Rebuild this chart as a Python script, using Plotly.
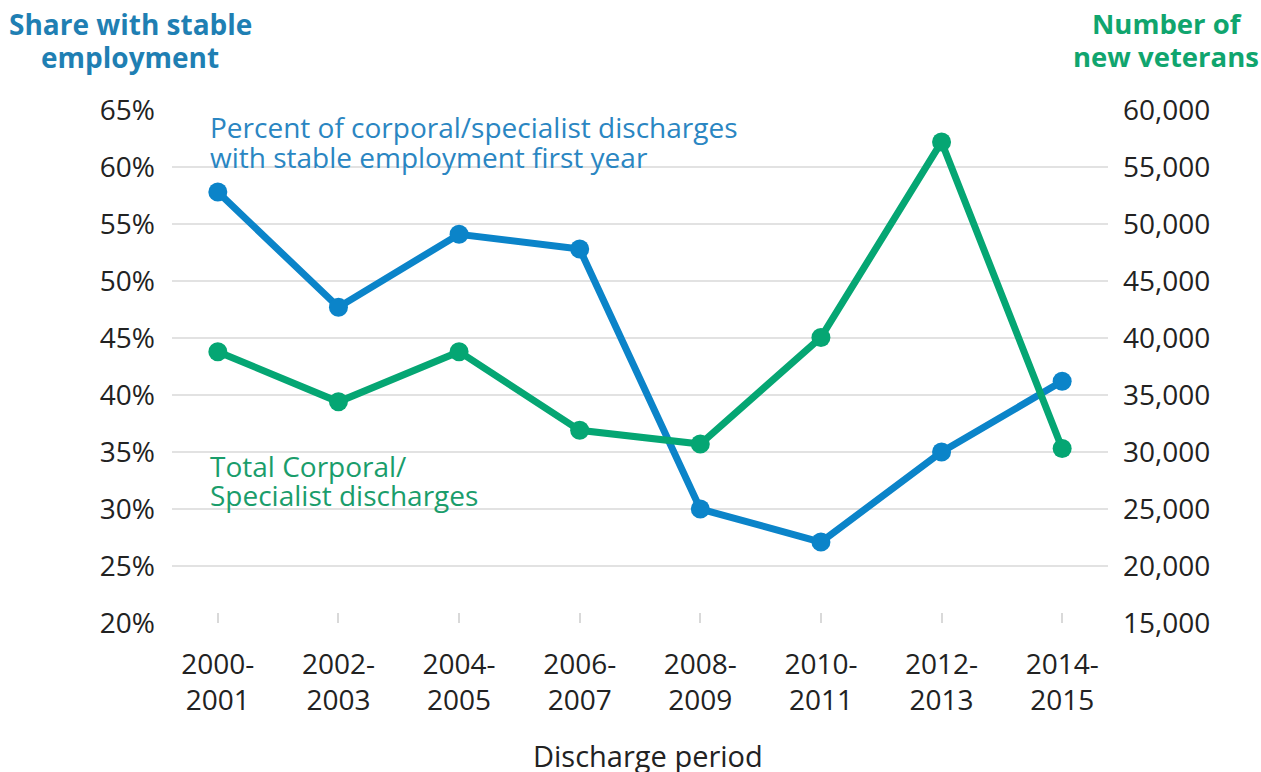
import plotly.graph_objects as go

periods = ["2000-<br>2001", "2002-<br>2003", "2004-<br>2005", "2006-<br>2007",
           "2008-<br>2009", "2010-<br>2011", "2012-<br>2013", "2014-<br>2015"]
stable_pct = [57.8, 47.7, 54.1, 52.8, 30.0, 27.1, 35.0, 41.2]
discharges = [38800, 34400, 38800, 31900, 30700, 40050, 57200, 30300]
left_ticks = [20, 25, 30, 35, 40, 45, 50, 55, 60, 65]
left_ticktext = [f"{v}%" for v in left_ticks]
right_ticks = [15000, 20000, 25000, 30000, 35000, 40000, 45000, 50000, 55000, 60000]
right_ticktext = [f"{v:,}" for v in right_ticks]

BLUE = "#0b84c9"
GREEN = "#05a673"
BLUE_T = "#1f7fb3"
GREEN_T = "#10a56e"
FONT = "Open Sans"

x = list(range(len(periods)))

fig = go.Figure()
fig.add_trace(go.Scatter(x=x, y=discharges, yaxis="y2", mode="lines+markers",
                         line=dict(color=GREEN, width=7),
                         marker=dict(color=GREEN, size=19), showlegend=False))
fig.add_trace(go.Scatter(x=x, y=stable_pct, mode="lines+markers",
                         line=dict(color=BLUE, width=7),
                         marker=dict(color=BLUE, size=19), showlegend=False))

tickfont = dict(family=FONT, size=28, color="#222222")

fig.update_layout(
    width=1261, height=772,
    margin=dict(l=172, r=153, t=110, b=149),
    plot_bgcolor="white", paper_bgcolor="white",
    xaxis=dict(range=[-0.38, 7.38], tickvals=x, ticktext=periods,
               showgrid=False, zeroline=False, showline=False,
               ticks="inside", ticklen=10, tickcolor="#d9d9d9", tickwidth=1.5,
               tickfont=tickfont, ticklabelstandoff=22),
    yaxis=dict(range=[20, 65], tickvals=left_ticks, ticktext=left_ticktext,
               showgrid=True, gridcolor="#e2e2e2", gridwidth=2,
               zeroline=False, showline=False, tickfont=tickfont,
               ticklabelstandoff=16),
    yaxis2=dict(range=[15000, 60000], tickvals=right_ticks, ticktext=right_ticktext,
                overlaying="y", side="right", showgrid=False, zeroline=False,
                showline=False, tickfont=tickfont, ticklabelstandoff=14),
)

def add_text(txt, px, py, size, color, anchor="left", bold=False):
    fig.add_annotation(text=f"<b>{txt}</b>" if bold else txt,
                       xref="paper", yref="paper",
                       x=(px - 172) / 936, y=(623 - py) / 513,
                       xanchor=anchor, yanchor="middle", showarrow=False,
                       font=dict(family=FONT, size=size, color=color))

# axis titles
add_text("Share with stable", 130, 24, 28, BLUE_T, "center", True)
add_text("employment", 130, 57, 28, BLUE_T, "center", True)
add_text("Number of", 1167, 24, 27.5, GREEN_T, "center", True)
add_text("new veterans", 1166, 57, 27.5, GREEN_T, "center", True)
# series labels
add_text("Percent of corporal/specialist discharges", 208, 127, 28, "#2a86c2")
add_text("with stable employment first year", 208, 157, 28, "#2a86c2")
add_text("Total Corporal/", 208, 466, 28, "#1a9d6b")
add_text("Specialist discharges", 208, 495, 28, "#1a9d6b")
# x-axis title
add_text("Discharge period", 648, 755, 29, "#222222", "center")

fig.write_html("out.html")
